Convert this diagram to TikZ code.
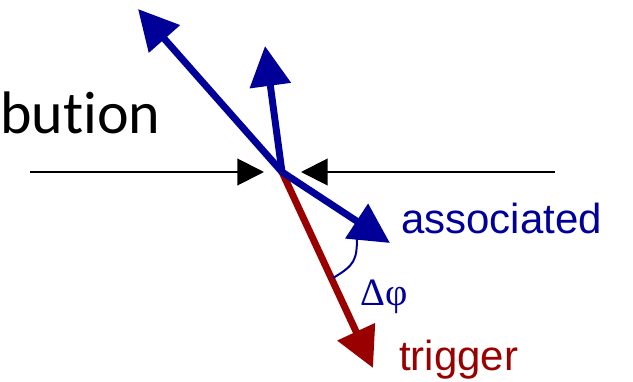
\documentclass[tikz,border=0pt]{standalone}
\usepackage{fontspec}
\setmainfont{Liberation Sans}
\newfontfamily\distfont[Ligatures={NoCommon,NoRare,NoDiscretionary}]{Carlito}
\newfontfamily\anglefont{Liberation Serif}
\usetikzlibrary{arrows.meta}
\definecolor{assocblue}{RGB}{0,0,153}
\definecolor{trigred}{RGB}{153,0,0}
\tikzset{
  jet/.style={
    line width = 5.2pt,
    -{Triangle[length=30pt,width=30pt]}
  },
  beam/.style={
    line width = 1.5pt,
    -{Triangle[length=20pt,width=20pt]}
  },
  tag/.style={
    anchor = base west,
    inner sep = 0pt,
    font = \fontsize{31.5}{36}\selectfont
  },
}
\begin{document}
\begin{tikzpicture}[x=0.75pt,y=-0.75pt]
  \useasboundingbox (0,0) rectangle (633,382);

  % vertex and free ends
  \coordinate (vtx) at (282,172);
  \coordinate (beamL) at (30,172);
  \coordinate (beamR) at (555,172);
  \coordinate (tipL) at (264,172);
  \coordinate (tipR) at (301,172);
  \coordinate (jetUL) at (138,9);
  \coordinate (jetUp) at (265,46);
  \coordinate (jetAs) at (390,243);
  \coordinate (jetTr) at (373,368);
  \coordinate (arcA) at (333,278);
  \coordinate (arcB) at (357,236);

  \node[anchor=base west, inner sep=0pt, font=\distfont\fontsize{45}{54}\selectfont] (dist) at (0,133) {bution};

  % beams
  \draw[beam] (beamL) -- (tipL);
  \draw[beam] (beamR) -- (tipR);

  % jets
  \draw[jet, trigred] (vtx) -- (jetTr);
  \draw[jet, assocblue] (vtx) -- (jetUL);
  \draw[jet, assocblue] (vtx) -- (jetUp);
  \draw[jet, assocblue] (vtx) -- (jetAs);

  % angle
  \draw[assocblue, line width=1.5pt] (arcA) .. controls (355,265) and (357,260) .. (arcB);
  \node[anchor=center, inner sep=0pt, text=assocblue, font=\anglefont\fontsize{29}{33}\selectfont] (dphi) at (384,297) {Δφ};

  \node[tag, text=assocblue] (assoc) at (401,233) {associated};
  \node[tag, text=trigred] (trig) at (399,370) {trigger};
\end{tikzpicture}
\end{document}
